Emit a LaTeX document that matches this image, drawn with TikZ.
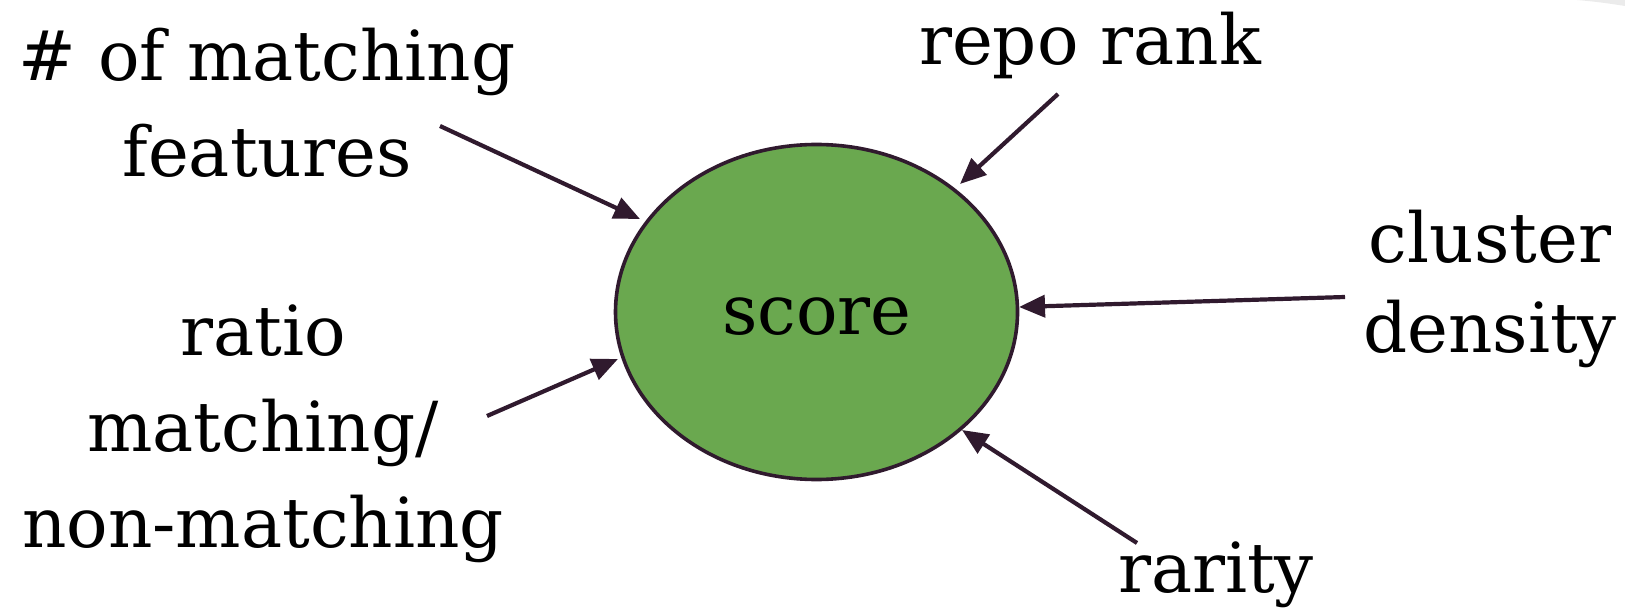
\documentclass[tikz,border=0pt]{standalone}
\usepackage{fontspec}
\setmainfont{DejaVu Serif}
\usetikzlibrary{shapes.geometric,arrows.meta}
\definecolor{edgecol}{RGB}{48,26,46}
\definecolor{scoregreen}{HTML}{6AA84F}
\definecolor{cornergrey}{HTML}{EBEBEB}
\tikzset{
  lbl/.style={font=\fontsize{34.5pt}{48pt}\selectfont, align=center, anchor=base, inner sep=0pt, text=black},
  inarrow/.style={draw=edgecol, line width=2.1pt, -{Triangle[length=13pt,width=11pt]}},
  scorebox/.style={ellipse, draw=edgecol, fill=scoregreen, line width=1.8pt, minimum width=201pt, minimum height=167.5pt, inner sep=0pt}
}
\begin{document}
\begin{tikzpicture}[x=0.5pt,y=-0.5pt]
\useasboundingbox (0,0) rectangle (1625,614);
\fill[cornergrey] (1577,0) .. controls (1600,2) and (1612,4) .. (1625,6) -- (1625,0) -- cycle;
\node[scorebox] (sc) at (816.5,312) {};
\node[lbl] (scoretxt) at (817,335) {score};
\node[lbl] (feat) at (267,177) {\# of matching\\features};
\node[lbl] (repo) at (1090,65) {repo rank};
\node[lbl] (clus) at (1490,352) {cluster\\[-3pt]density};
\node[lbl] (ratio) at (263,547) {ratio\\matching/\\non-matching};
\node[lbl] (rar) at (1216,592) {rarity};
\coordinate (s1) at (440,126); \coordinate (t1) at (640,219);
\coordinate (s2) at (1058,94); \coordinate (t2) at (960,184);
\coordinate (s3) at (1345,297); \coordinate (t3) at (1019,307);
\coordinate (s4) at (487,416); \coordinate (t4) at (618,359);
\coordinate (s5) at (1137,543); \coordinate (t5) at (962,430);
\draw[inarrow] (s1) -- (t1);
\draw[inarrow] (s2) -- (t2);
\draw[inarrow] (s3) -- (t3);
\draw[inarrow] (s4) -- (t4);
\draw[inarrow] (s5) -- (t5);
\end{tikzpicture}
\end{document}
